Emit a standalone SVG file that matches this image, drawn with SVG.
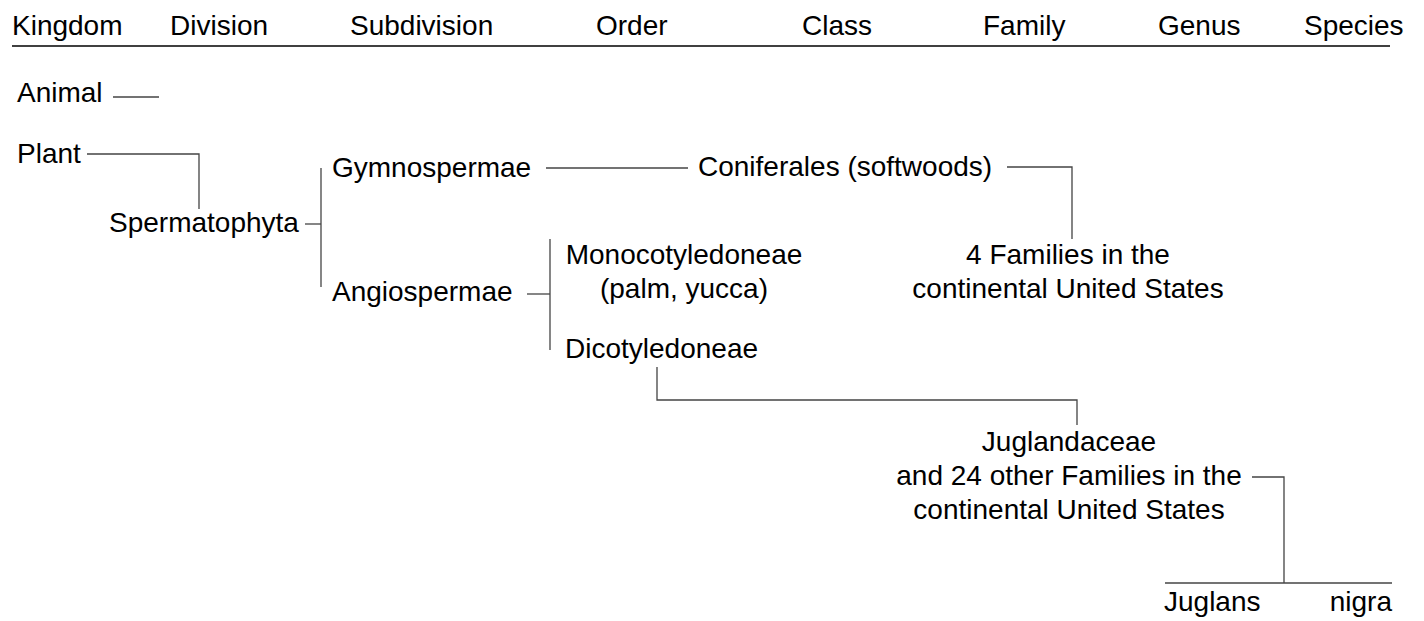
<svg xmlns="http://www.w3.org/2000/svg" width="1424" height="621" viewBox="0 0 1424 621">
<style>
text{font-family:"Liberation Sans",Arial,sans-serif;font-size:28px;fill:#000}
.c{text-anchor:middle}
.e{text-anchor:end}
.ln{fill:none;stroke:#444;stroke-width:1.3}
.hd{fill:none;stroke:#000;stroke-width:1.6}
</style>
<rect width="1424" height="621" fill="#fff"/>
<g id="header">
<text x="12" y="35">Kingdom</text>
<text x="170" y="35">Division</text>
<text x="350" y="35">Subdivision</text>
<text x="596" y="35">Order</text>
<text x="802" y="35">Class</text>
<text x="983" y="35">Family</text>
<text x="1158" y="35">Genus</text>
<text x="1304" y="35">Species</text>
<line class="hd" x1="12" y1="46" x2="1390" y2="46"/>
</g>
<g id="animal"><text x="17" y="102">Animal</text></g>
<g id="plant"><text x="17" y="163">Plant</text></g>
<g id="spermatophyta"><text x="109" y="232">Spermatophyta</text></g>
<g id="gymnospermae"><text x="332" y="177">Gymnospermae</text></g>
<g id="angiospermae"><text x="332" y="301">Angiospermae</text></g>
<g id="coniferales"><text x="698" y="176">Coniferales (softwoods)</text></g>
<g id="conifer-families"><text class="c" x="1068" y="264">4 Families in the</text><text class="c" x="1068" y="298">continental United States</text></g>
<g id="monocotyledoneae"><text class="c" x="684" y="264">Monocotyledoneae</text><text class="c" x="684" y="298">(palm, yucca)</text></g>
<g id="dicotyledoneae"><text x="565" y="358">Dicotyledoneae</text></g>
<g id="juglandaceae"><text class="c" x="1069" y="451">Juglandaceae</text><text class="c" x="1069" y="485">and 24 other Families in the</text><text class="c" x="1069" y="519">continental United States</text></g>
<g id="juglans-nigra"><text x="1164" y="611">Juglans</text><text class="e" x="1392" y="611">nigra</text></g>
<g id="connectors">
<line class="ln" x1="113" y1="97" x2="159" y2="97"/>
<polyline class="ln" points="87,154 199,154 199,209"/>
<line class="ln" x1="305" y1="224" x2="321" y2="224"/>
<line class="ln" x1="321" y1="168" x2="321" y2="287"/>
<line class="ln" x1="546" y1="168" x2="688" y2="168"/>
<polyline class="ln" points="1007,167 1072,167 1072,239"/>
<line class="ln" x1="527" y1="294" x2="550" y2="294"/>
<line class="ln" x1="550" y1="239" x2="550" y2="350"/>
<polyline class="ln" points="657,367 657,400 1077,400 1077,425"/>
<polyline class="ln" points="1252,477 1284,477 1284,583"/>
<line class="ln" x1="1165" y1="583" x2="1392" y2="583"/>
</g>
</svg>
